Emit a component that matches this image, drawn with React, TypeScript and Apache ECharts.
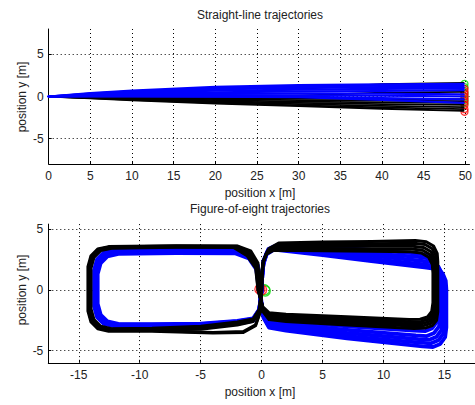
import React, { useEffect, useRef } from "react";
import * as echarts from "echarts";

// ---------- tick labels ----------
const topXTicks = [0, 5, 10, 15, 20, 25, 30, 35, 40, 45, 50];
const topYTicks = [-5, 0, 5];
const botXTicks = [-15, -10, -5, 0, 5, 10, 15];
const botYTicks = [-5, 0, 5];

// ---------- straight-line trajectories (blue) ----------
const slBlue1 = [[0, 0], [5, 0.4], [10, 0.7], [20, 1.15], [30, 1.35], [40, 1.45], [49.8, 1.5]];
const slBlue2 = [[0, 0], [5, 0.35], [10, 0.62], [20, 1.0], [30, 1.2], [40, 1.3], [49.8, 1.3]];
const slBlue3 = [[0, 0], [5, 0.3], [10, 0.52], [20, 0.85], [30, 1.02], [40, 1.1], [49.8, 1.1]];
const slBlue4 = [[0, 0], [5, 0.24], [10, 0.42], [20, 0.68], [30, 0.82], [40, 0.9], [49.8, 0.95]];
const slBlue5 = [[0, 0], [5, 0.18], [10, 0.32], [20, 0.5], [30, 0.6], [40, 0.65], [49.8, 0.75]];
const slBlue6 = [[0, 0], [5, 0.12], [10, 0.22], [20, 0.32], [30, 0.38], [40, 0.35], [49.8, 0.25]];
const slBlue7 = [[0, 0], [5, 0.07], [10, 0.12], [20, 0.16], [30, 0.15], [40, 0.1], [49.8, 0.0]];
const slBlue8 = [[0, 0], [5, 0.03], [10, 0.04], [20, 0.02], [30, -0.02], [40, -0.2], [49.8, -0.35]];
const slBlue9 = [[0, 0], [5, 0.01], [10, 0], [20, -0.03], [30, -0.08], [40, -0.4], [49.8, -0.75]];

// ---------- straight-line trajectories (black) ----------
const slBlack1 = [[0, 0], [5, -0.22], [10, -0.45], [20, -0.85], [30, -1.15], [40, -1.45], [49.8, -1.7]];
const slBlack2 = [[0, 0], [5, -0.2], [10, -0.4], [20, -0.75], [30, -1.05], [40, -1.3], [49.8, -1.5]];
const slBlack3 = [[0, 0], [5, -0.17], [10, -0.34], [20, -0.65], [30, -0.9], [40, -1.1], [49.8, -1.25]];
const slBlack4 = [[0, 0], [5, -0.14], [10, -0.28], [20, -0.55], [30, -0.75], [40, -0.9], [49.8, -1.0]];
const slBlack5 = [[0, 0], [5, -0.1], [10, -0.22], [20, -0.42], [30, -0.6], [40, -0.7], [49.8, -0.75]];
const slBlack6 = [[0, 0], [5, -0.07], [10, -0.15], [20, -0.3], [30, -0.42], [40, -0.5], [49.8, -0.55]];
const slBlack7 = [[0, 0], [5, -0.04], [10, -0.09], [20, -0.18], [30, -0.25], [40, -0.3], [49.8, -0.3]];
const slBlack8 = [[0, 0], [5, -0.02], [10, -0.04], [20, -0.08], [30, 0.1], [40, 0.45], [49.8, 0.55]];
const slBlack9 = [[0, 0], [5, 0], [10, 0], [20, 0.3], [30, 0.9], [40, 1.45], [49.8, 1.62]];

// end markers (straight line)
const slGreenEnds = [[49.9, 1.5], [49.9, 1.1], [49.9, 0.4], [49.9, 0], [49.9, -0.4], [49.9, -0.8]];
const slRedEnds = [[49.9, 0.9], [49.9, 0.6], [49.9, 0.3], [49.9, 0], [49.9, -0.3], [49.9, -0.6], [49.9, -1.0], [49.9, -1.5], [49.9, -1.8]];

// ---------- figure-of-eight trajectories (black) ----------
const f8Black1 = [[0, 0], [0.05, 1.2], [0.15, 2.4], [0.6, 3.4], [1.4, 3.85], [5, 3.92], [9, 3.98], [12.6, 4.05], [13.5, 3.95], [14.1, 3.6], [14.4, 3.0], [14.45, 2.3], [14.45, -1.8], [14.35, -2.5], [14.0, -2.95], [13.4, -3.15], [12.5, -3.18], [7, -2.9], [2, -2.6], [0.6, -2.45], [0.1, -1.8], [-0.15, 0], [-0.3, 2.2], [-0.9, 3.2],
  [-2, 3.6], [-7, 3.62], [-12.55, 3.55], [-13.45, 3.35], [-14.0, 2.8], [-14.25, 1.9], [-14.25, -1.75], [-14.0, -2.65], [-13.45, -3.2], [-12.55, -3.4], [-9, -3.4], [-4, -3.55], [-1.5, -3.5], [-0.5, -2.95], [-0.1, -1.8], [0, 0]];
const f8Black2 = [[0, 0], [0.05, 1.2], [0.15, 2.3], [0.5, 3.2], [1.3, 3.7], [5, 3.74], [9, 3.78], [12.5, 3.82], [13.4, 3.72], [14.0, 3.37], [14.3, 2.77], [14.35, 2.07], [14.35, -1.6], [14.25, -2.3], [13.9, -2.75], [13.3, -2.95], [12.4, -2.98], [7, -2.72], [2, -2.45], [0.6, -2.3], [0.1, -1.7], [-0.2, 0], [-0.35, 2.1], [-0.95, 3.1],
  [-2, 3.57], [-7, 3.59], [-12.5, 3.52], [-13.4, 3.32], [-13.95, 2.77], [-14.2, 1.87], [-14.2, -1.7], [-13.95, -2.6], [-13.4, -3.15], [-12.5, -3.35], [-9, -3.35], [-4, -3.5], [-1.5, -3.43], [-0.5, -2.88], [-0.1, -1.7], [0, 0]];
const f8Black3 = [[0, 0], [0, 1.2], [0.1, 2.3], [0.45, 3.1], [1.2, 3.55], [5, 3.56], [9, 3.57], [12.4, 3.58], [13.3, 3.48], [13.9, 3.13], [14.2, 2.53], [14.25, 1.83], [14.25, -1.43], [14.15, -2.13], [13.8, -2.58], [13.2, -2.78], [12.3, -2.81], [7, -2.57], [2, -2.3], [0.6, -2.15], [0.1, -1.6], [-0.25, 0], [-0.4, 2.0], [-1, 3.0],
  [-2, 3.54], [-7, 3.56], [-12.45, 3.49], [-13.35, 3.29], [-13.9, 2.74], [-14.15, 1.84], [-14.15, -1.65], [-13.9, -2.55], [-13.35, -3.1], [-12.45, -3.3], [-9, -3.3], [-5, -3.25], [-2, -2.9], [-0.7, -2.6], [-0.2, -1.8], [0, 0]];
const f8Black4 = [[0, 0], [0, 1.2], [0.1, 2.2], [0.4, 3.0], [1.1, 3.4], [5, 3.38], [9, 3.36], [12.3, 3.35], [13.2, 3.25], [13.8, 2.9], [14.1, 2.3], [14.15, 1.6], [14.15, -1.25], [14.05, -1.95], [13.7, -2.4], [13.1, -2.6], [12.2, -2.63], [7, -2.4], [2, -2.12], [0.6, -2.0], [0.1, -1.5], [-0.3, 0], [-0.45, 1.9], [-1.1, 2.9],
  [-2.2, 3.5], [-7, 3.52], [-12.38, 3.45], [-13.28, 3.25], [-13.83, 2.7], [-14.08, 1.8], [-14.08, -1.6], [-13.83, -2.5], [-13.28, -3.05], [-12.38, -3.25], [-9, -3.22], [-5, -3.1], [-2, -2.75], [-0.7, -2.5], [-0.2, -1.7], [0, 0]];
const f8Black5 = [[0, 0], [0, 1.2], [0.1, 2.1], [0.35, 2.9], [1.0, 3.25], [5, 3.21], [9, 3.17], [12.2, 3.12], [13.1, 3.02], [13.7, 2.67], [14.0, 2.07], [14.05, 1.37], [14.05, -1.07], [13.95, -1.77], [13.6, -2.22], [13.0, -2.42], [12.1, -2.45], [7, -2.22], [2, -2.0], [0.6, -1.88], [0.1, -1.4], [-0.3, 0], [-0.5, 1.8], [-1.2, 2.8],
  [-2.3, 3.47], [-7, 3.49], [-12.3, 3.42], [-13.2, 3.22], [-13.75, 2.67], [-14.0, 1.77], [-14.0, -1.55], [-13.75, -2.45], [-13.2, -3.0], [-12.3, -3.2], [-9, -3.15], [-5, -3.0], [-2, -2.65], [-0.7, -2.4], [-0.2, -1.6], [0, 0]];

// ---------- figure-of-eight trajectories (blue) ----------
const f8Blue1 = [[0, 0], [0.05, 1.2], [0.15, 2.4], [0.55, 3.35], [1.4, 3.75], [5, 3.52], [9, 3.27], [12.6, 3.0], [13.5, 2.88], [14.1, 2.5], [14.4, 1.9], [14.5, 1.2], [14.5, -1.8], [14.4, -2.6], [14.0, -3.15], [13.4, -3.4], [12.5, -3.35], [7, -3.0], [2, -2.6], [0.6, -2.4], [0.1, -1.8], [-0.15, 0], [-0.3, 2.0], [-0.9, 2.9],
  [-2, 3.3], [-7, 3.32], [-12.05, 3.25], [-12.95, 3.05], [-13.5, 2.5], [-13.75, 1.6], [-13.75, -1.35], [-13.5, -2.25], [-12.95, -2.8], [-12.05, -3.0], [-9, -3.02], [-5, -2.98], [-2, -2.8], [-0.7, -2.55], [-0.2, -1.8], [0, 0]];
const f8Blue2 = [[0, 0], [0.05, 1.2], [0.15, 2.3], [0.5, 3.2], [1.3, 3.6], [5, 3.3], [9, 3.0], [12.8, 2.7], [13.7, 2.58], [14.3, 2.2], [14.6, 1.6], [14.65, 0.9], [14.65, -2.2], [14.55, -3.0], [14.15, -3.55], [13.55, -3.8], [12.65, -3.75], [7, -3.3], [2, -2.8], [0.6, -2.6], [0.1, -1.9], [-0.2, 0], [-0.35, 1.9], [-0.95, 2.8],
  [-2, 3.22], [-7, 3.24], [-11.98, 3.17], [-12.88, 2.97], [-13.43, 2.42], [-13.68, 1.52], [-13.68, -1.3], [-13.43, -2.2], [-12.88, -2.75], [-11.98, -2.95], [-9, -2.97], [-5, -2.93], [-2, -2.72], [-0.7, -2.5], [-0.2, -1.75], [0, 0]];
const f8Blue3 = [[0, 0], [0.05, 1.2], [0.15, 2.2], [0.45, 3.1], [1.2, 3.5], [5, 3.15], [9, 2.8], [13.0, 2.4], [13.9, 2.28], [14.5, 1.9], [14.8, 1.3], [14.85, 0.6], [14.85, -2.5], [14.75, -3.3], [14.35, -3.85], [13.75, -4.1], [12.85, -4.05], [7, -3.55], [2, -3.0], [0.6, -2.8], [0.1, -2.0], [-0.2, 0], [-0.4, 1.8], [-1, 2.72],
  [-2.1, 3.15], [-7, 3.17], [-11.9, 3.1], [-12.8, 2.9], [-13.35, 2.35], [-13.6, 1.45], [-13.6, -1.25], [-13.35, -2.15], [-12.8, -2.7], [-11.9, -2.9], [-9, -2.92], [-5, -2.88], [-2, -2.65], [-0.7, -2.45], [-0.2, -1.7], [0, 0]];
const f8Blue4 = [[0, 0], [0.05, 1.2], [0.15, 2.2], [0.4, 3.0], [1.1, 3.4], [5, 3.0], [9, 2.55], [13.15, 2.1], [14.05, 1.98], [14.65, 1.6], [14.95, 1.0], [15.0, 0.3], [15.0, -2.8], [14.9, -3.6], [14.5, -4.15], [13.9, -4.4], [13.0, -4.35], [7, -3.8], [2, -3.2], [0.6, -3.0], [0.15, -2.2], [-0.2, 0], [-0.4, 1.8], [-1, 2.65],
  [-2.1, 3.08], [-7, 3.1], [-11.82, 3.03], [-12.72, 2.83], [-13.27, 2.28], [-13.52, 1.38], [-13.52, -1.2], [-13.27, -2.1], [-12.72, -2.65], [-11.82, -2.85], [-9, -2.87], [-5, -2.83], [-2, -2.6], [-0.7, -2.4], [-0.2, -1.65], [0, 0]];
const f8Blue5 = [[0, 0], [0.05, 1.2], [0.15, 2.1], [0.4, 2.9], [1.0, 3.3], [5, 2.85], [9, 2.35], [13.35, 1.85], [14.25, 1.73], [14.85, 1.35], [15.1, 0.75], [15.15, 0.05], [15.15, -3.1], [15.05, -3.9], [14.65, -4.45], [14.05, -4.7], [13.2, -4.65], [7, -4.0], [2, -3.35], [0.6, -3.1], [0.15, -2.3], [-0.2, 0], [-0.45, 1.7], [-1.05, 2.58],
  [-2.2, 3.0], [-7, 3.02], [-11.75, 2.95], [-12.65, 2.75], [-13.2, 2.2], [-13.45, 1.3], [-13.45, -1.15], [-13.2, -2.05], [-12.65, -2.6], [-11.75, -2.8], [-9, -2.82], [-5, -2.78], [-2, -2.55], [-0.7, -2.35], [-0.2, -1.6], [0, 0]];

// start markers (figure of eight)
const f8GreenStarts = [[0.25, 0], [0.3, -0.1]];
const f8RedStarts = [[-0.15, 0.05], [0, 0]];

const slBlueAll = [slBlue1, slBlue2, slBlue3, slBlue4, slBlue5, slBlue6, slBlue7, slBlue8, slBlue9];
const slBlackAll = [slBlack1, slBlack2, slBlack3, slBlack4, slBlack5, slBlack6, slBlack7, slBlack8, slBlack9];
const f8BlueAll = [f8Blue1, f8Blue2, f8Blue3, f8Blue4, f8Blue5];
const f8BlackAll = [f8Black1, f8Black2, f8Black3, f8Black4, f8Black5];

const FONT = "Liberation Sans, Arial, sans-serif";
const TXT = "#222";
const FS = 12;

function lineSeries(data: number[][], idx: number, color: string, width: number) {
  return {
    type: "line",
    xAxisIndex: idx,
    yAxisIndex: idx,
    data,
    showSymbol: false,
    symbol: "none",
    silent: true,
    lineStyle: { color, width, cap: "round", join: "round" },
  };
}

function ringSeries(data: number[][], idx: number, color: string, size: number) {
  return {
    type: "scatter",
    xAxisIndex: idx,
    yAxisIndex: idx,
    data,
    symbol: "circle",
    symbolSize: size,
    silent: true,
    itemStyle: { color: "rgba(0,0,0,0)", borderColor: color, borderWidth: 1.3 },
  };
}

function xAxisCfg(idx: number, min: number, max: number, ticks: number[]) {
  return {
    type: "value",
    gridIndex: idx,
    min,
    max,
    axisLine: { show: true, onZero: false, lineStyle: { color: "#000", width: 1 } },
    axisTick: { show: true, inside: true, length: 3, customValues: ticks, lineStyle: { color: "#000" } },
    axisLabel: { customValues: ticks, color: TXT, fontSize: FS, fontFamily: FONT, margin: 6, showMaxLabel: true },
    splitLine: { show: true, lineStyle: { color: "#000", type: [1, 3], width: 1 } },
  };
}

function yAxisCfg(idx: number, min: number, max: number, ticks: number[]) {
  return {
    type: "value",
    gridIndex: idx,
    min,
    max,
    axisLine: { show: true, onZero: false, lineStyle: { color: "#000", width: 1 } },
    axisTick: { show: true, inside: true, length: 3, customValues: ticks, lineStyle: { color: "#000" } },
    axisLabel: { customValues: ticks, color: TXT, fontSize: FS, fontFamily: FONT, margin: 5 },
    splitLine: { show: true, lineStyle: { color: "#000", type: [1, 3], width: 1 } },
  };
}

function label(text: string, x: number, y: number, rotate = false) {
  return {
    type: "text",
    x,
    y,
    rotation: rotate ? Math.PI / 2 : 0,
    silent: true,
    style: {
      text,
      fill: TXT,
      fontSize: FS,
      fontFamily: FONT,
      textAlign: "center",
      textVerticalAlign: "middle",
    },
  };
}

export default function App() {
  const ref = useRef<HTMLDivElement>(null);
  useEffect(() => {
    if (!ref.current) return;
    const chart = echarts.init(ref.current, null, { renderer: "svg" });
    const series: any[] = [];
    // top plot: black first, blue on top
    slBlackAll.forEach((d) => series.push(lineSeries(d, 0, "#000000", 1.8)));
    slBlueAll.forEach((d) => series.push(lineSeries(d, 0, "#0000ff", 2.2)));
    series.push(ringSeries(slGreenEnds, 0, "#00dd00", 7));
    series.push(ringSeries(slRedEnds, 0, "#ff0000", 7));
    // bottom plot: blue first, black on top
    f8BlueAll.forEach((d) => series.push(lineSeries(d, 1, "#0000ff", 3.8)));
    f8BlackAll.forEach((d) => series.push(lineSeries(d, 1, "#000000", 3)));
    series.push(ringSeries(f8GreenStarts, 1, "#00dd00", 10));
    series.push(ringSeries(f8RedStarts, 1, "#ff0000", 10));

    chart.setOption({
      animation: false,
      backgroundColor: "#ffffff",
      grid: [
        { left: 48.7, top: 29, width: 426.5, height: 135 },
        { left: 48.3, top: 224.1, width: 428.5, height: 138.7 },
      ],
      xAxis: [xAxisCfg(0, 0, 50.5, topXTicks), xAxisCfg(1, -17.5, 17.5, botXTicks)],
      yAxis: [yAxisCfg(0, -8, 8, topYTicks), yAxisCfg(1, -6, 5.4, botYTicks)],
      graphic: [
        label("Straight-line trajectories", 260, 15),
        label("position x [m]", 260, 193),
        label("position y [m]", 22, 97, true),
        label("Figure-of-eight trajectories", 260, 209),
        label("position x [m]", 260, 392),
        label("position y [m]", 22, 290, true),
      ],
      series,
    });
    return () => chart.dispose();
  }, []);
  return (
    <div
      ref={ref}
      style={{ position: "absolute", left: 0, top: 0, width: 475, height: 405, background: "#fff" }}
    />
  );
}
